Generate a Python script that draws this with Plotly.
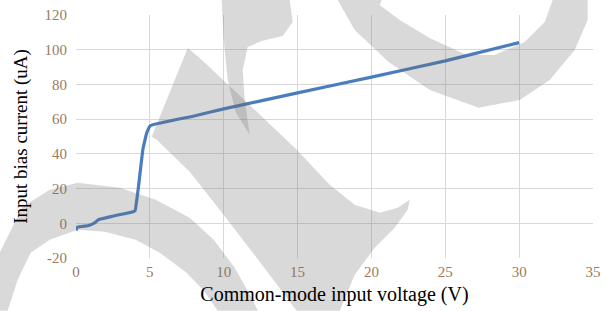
import plotly.graph_objects as go

# ---- data ----
voltage_v = [0.0, 0.08, 0.86, 1.26, 1.52, 2.43, 3.87, 4.0, 4.21, 4.53, 4.79, 5.05,
             7.93, 10.0, 15.0, 20.0, 25.0, 30.0]
bias_current_ua = [-4.2, -2.3, -1.3, 0.2, 2.1, 4.0, 6.7, 7.3, 19.7, 42.6, 52.1, 56.3,
                   61.7, 65.9, 75.1, 84.2, 93.6, 104.1]
x_ticks = [0, 5, 10, 15, 20, 25, 30, 35]
y_ticks = [-20, 0, 20, 40, 60, 80, 100, 120]

W, H = 606, 311
L, R, T, B = 76.3, 593.3, 15.0, 258.3

def path(pts):
    # pixel coordinates -> paper coordinates
    out = []
    for i, (px, py) in enumerate(pts):
        x = (px - L) / (R - L)
        y = (B - py) / (B - T)
        out.append(("M" if i == 0 else "L") + f"{x:.4f},{y:.4f}")
    return " ".join(out) + " Z"

wm = "rgba(110,110,110,0.26)"
watermark = [
    # bottom-left crescent
    [(0, 253), (23, 207), (50, 190), (78, 183), (120, 188), (156, 200), (190, 218), (214, 240),
     (235, 268), (253, 300), (258, 311), (218, 311), (205, 292), (187, 273), (160, 253),
     (136, 240), (105, 232), (78, 230), (50, 240), (31, 253), (18, 280), (8, 311), (0, 311)],
    # diagonal band with hook
    [(152, 137), (188, 48), (200, 58), (250, 105), (297, 150), (330, 185), (355, 205), (380, 213),
     (398, 208), (410, 200), (408, 210), (395, 228), (375, 248), (355, 275), (340, 311),
     (297, 311), (260, 262), (220, 210), (190, 172), (157, 140)],
    # top-right ring
    [(338, 0), (355, 30), (389, 62), (430, 90), (479, 108), (520, 100), (550, 80), (575, 50),
     (588, 20), (588, 0), (553, 0), (545, 22), (525, 42), (495, 55), (467, 55), (430, 38),
     (400, 20), (380, 5), (382, 0)],
    # top-middle hook
    [(222, 0), (290, 0), (293, 22), (283, 36), (262, 41), (248, 47), (243, 70), (245, 100),
     (250, 135), (236, 112), (228, 80), (224, 40)],
]

fig = go.Figure()
fig.add_trace(go.Scatter(
    x=voltage_v, y=bias_current_ua, mode="lines",
    line=dict(color="#4a7dbd", width=3.2, shape="spline", smoothing=0.3),
    showlegend=False, hoverinfo="skip"))

shapes = [dict(type="path", path=path(p), xref="paper", yref="paper",
               fillcolor=wm, line=dict(width=0), layer="above") for p in watermark]

serif = "Liberation Serif, Times New Roman, serif"
tickfont = dict(family=serif, size=15, color="#9a7b5e")

fig.update_layout(
    width=W, height=H,
    margin=dict(l=L, r=W - R, t=T, b=H - B, pad=0, autoexpand=False),
    paper_bgcolor="white", plot_bgcolor="white",
    shapes=shapes,
    xaxis=dict(range=[0, 35], tickvals=x_ticks, ticktext=[str(v) for v in x_ticks],
               showgrid=True, gridcolor="#d9d9d9", gridwidth=1, zeroline=False,
               showline=False, tickfont=tickfont, ticks="", ticklabelstandoff=3,
               automargin=False,
               title=dict(text="Common-mode input voltage (V)",
                          font=dict(family=serif, size=20, color="#000"), standoff=7),
               fixedrange=True),
    yaxis=dict(range=[-20, 120], tickvals=y_ticks, ticktext=[str(v) for v in y_ticks],
               showgrid=True, gridcolor="#d9d9d9", gridwidth=1, zeroline=False,
               showline=False, tickfont=tickfont, ticks="", ticklabelstandoff=8,
               automargin=False,
               title=dict(text="Input bias current (uA)",
                          font=dict(family=serif, size=19, color="#000"), standoff=11),
               fixedrange=True),
)

fig.write_html("out.html", config={"displayModeBar": False},
               post_script="document.body.style.margin='0px';")
